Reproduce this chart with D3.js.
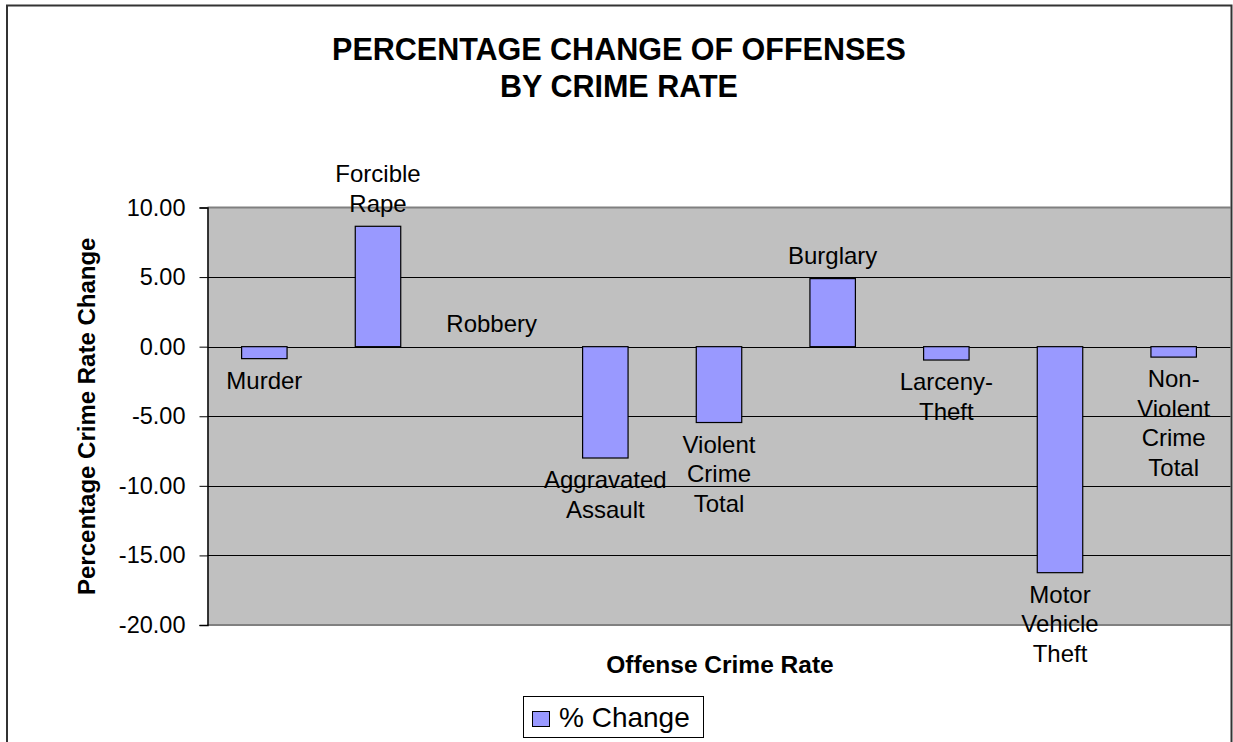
<!DOCTYPE html>
<html>
<head>
<meta charset="utf-8">
<script src="https://cdn.jsdelivr.net/npm/d3@7"></script>
<style>
  html, body { margin: 0; padding: 0; background: #fff; }
  svg { display: block; }
  text { font-family: "Liberation Sans", Arial, sans-serif; fill: #000; }
</style>
</head>
<body>
<svg id="chart" width="1233" height="742"></svg>
<script>
// ---- data ----
const categories = ["Murder", "Forcible Rape", "Robbery", "Aggravated Assault", "Violent Crime Total",
                    "Burglary", "Larceny-Theft", "Motor Vehicle Theft", "Non-Violent Crime Total"];
const pctChange = [-0.86, 8.65, 0.0, -8.0, -5.45, 4.89, -0.96, -16.24, -0.75];
const yTicks = [-20, -15, -10, -5, 0, 5, 10];
const titleLines = ["PERCENTAGE CHANGE OF OFFENSES", "BY CRIME RATE"];
const yTitle = "Percentage Crime Rate Change";
const xTitle = "Offense Crime Rate";
const seriesName = "% Change";

// ---- layout ----
const W = 1233, H = 742;
const plot = { left: 207.5, right: 1230.5, top: 207.5, bottom: 625 };
const svg = d3.select("#chart");

svg.append("rect").attr("x", 0).attr("y", 0).attr("width", W).attr("height", H).attr("fill", "#fff");

const x = d3.scaleBand().domain(categories).range([plot.left, plot.right])
  .paddingInner(0.6).paddingOuter(0.3);
const y = d3.scaleLinear().domain([-20, 10]).range([plot.bottom, plot.top]);

// plot background
svg.append("rect").attr("x", plot.left).attr("y", plot.top)
  .attr("width", plot.right - plot.left).attr("height", plot.bottom - plot.top)
  .attr("fill", "#C0C0C0");

// gridlines
svg.append("g").selectAll("line").data(yTicks.filter(d => d > -20 && d < 10)).join("line")
  .attr("x1", plot.left).attr("x2", plot.right)
  .attr("y1", d => Math.round(y(d)) + 0.5).attr("y2", d => Math.round(y(d)) + 0.5)
  .attr("stroke", "#000").attr("stroke-width", 1);

// plot border top/bottom (gray)
svg.append("line").attr("x1", plot.left).attr("x2", plot.right).attr("y1", plot.top).attr("y2", plot.top)
  .attr("stroke", "#808080").attr("stroke-width", 2);
svg.append("line").attr("x1", plot.left).attr("x2", plot.right).attr("y1", plot.bottom).attr("y2", plot.bottom)
  .attr("stroke", "#808080").attr("stroke-width", 2);

// bars
svg.append("g").selectAll("rect").data(categories).join("rect")
  .attr("x", d => x(d))
  .attr("y", (d, i) => y(Math.max(0, pctChange[i])))
  .attr("width", x.bandwidth())
  .attr("height", (d, i) => Math.abs(y(pctChange[i]) - y(0)))
  .attr("fill", "#9999FF").attr("stroke", "#000").attr("stroke-width", 1.2)
  .style("display", (d, i) => pctChange[i] === 0 ? "none" : null);

// y axis
const yAxis = d3.axisLeft(y).tickValues(yTicks).tickFormat(d => d.toFixed(2))
  .tickSize(8).tickPadding(14);
const gy = svg.append("g").attr("transform", `translate(${plot.left},0)`).call(yAxis);
gy.select(".domain").attr("stroke", "#000").attr("stroke-width", 1.5);
gy.selectAll(".tick line").attr("stroke", "#000");
gy.selectAll(".tick text").attr("font-size", 23.5).attr("font-family", "Liberation Sans, Arial, sans-serif").attr("fill", "#000");

// data labels
const lineH = 29.5;
function wrap(label) {
  return label.replace(/-/g, "-\n").split(/[ \n]/).filter(s => s.length);
}
const lg = svg.append("g");
categories.forEach((c, i) => {
  const lines = wrap(c);
  const v = pctChange[i];
  const cx = x(c) + x.bandwidth() / 2;
  let firstBase;
  if (v < 0) firstBase = y(v) + 30;
  else firstBase = y(v) - 14.5 - (lines.length - 1) * lineH;
  const t = lg.append("text").attr("text-anchor", "middle").attr("font-size", 24);
  lines.forEach((l, k) => {
    t.append("tspan").attr("x", cx).attr("y", firstBase + k * lineH).text(l);
  });
});

// title
svg.append("g").selectAll("text").data(titleLines).join("text")
  .attr("x", 619).attr("y", (d, i) => 59.5 + i * 37)
  .attr("text-anchor", "middle").attr("font-weight", "bold").attr("font-size", 30.5)
  .text(d => d);

// axis titles
svg.append("text").attr("transform", `translate(95,${(plot.top + plot.bottom) / 2}) rotate(-90)`)
  .attr("text-anchor", "middle").attr("font-weight", "bold").attr("font-size", 24).text(yTitle);
svg.append("text").attr("x", 720).attr("y", 673)
  .attr("text-anchor", "middle").attr("font-weight", "bold").attr("font-size", 24.5).text(xTitle);

// legend
const leg = svg.append("g");
leg.append("rect").attr("x", 523.5).attr("y", 696.5).attr("width", 180).attr("height", 41)
  .attr("fill", "#fff").attr("stroke", "#000").attr("stroke-width", 1);
leg.append("rect").attr("x", 532.5).attr("y", 711.5).attr("width", 17).attr("height", 15)
  .attr("fill", "#9999FF").attr("stroke", "#000").attr("stroke-width", 1);
leg.append("text").attr("x", 559).attr("y", 726.5).attr("font-size", 28).text(seriesName);

// outer frame border (on top)
svg.append("path").attr("d", `M7,${H} V5.5 H1231.5 V${H}`)
  .attr("fill", "none").attr("stroke", "#333").attr("stroke-width", 2);
</script>
</body>
</html>
